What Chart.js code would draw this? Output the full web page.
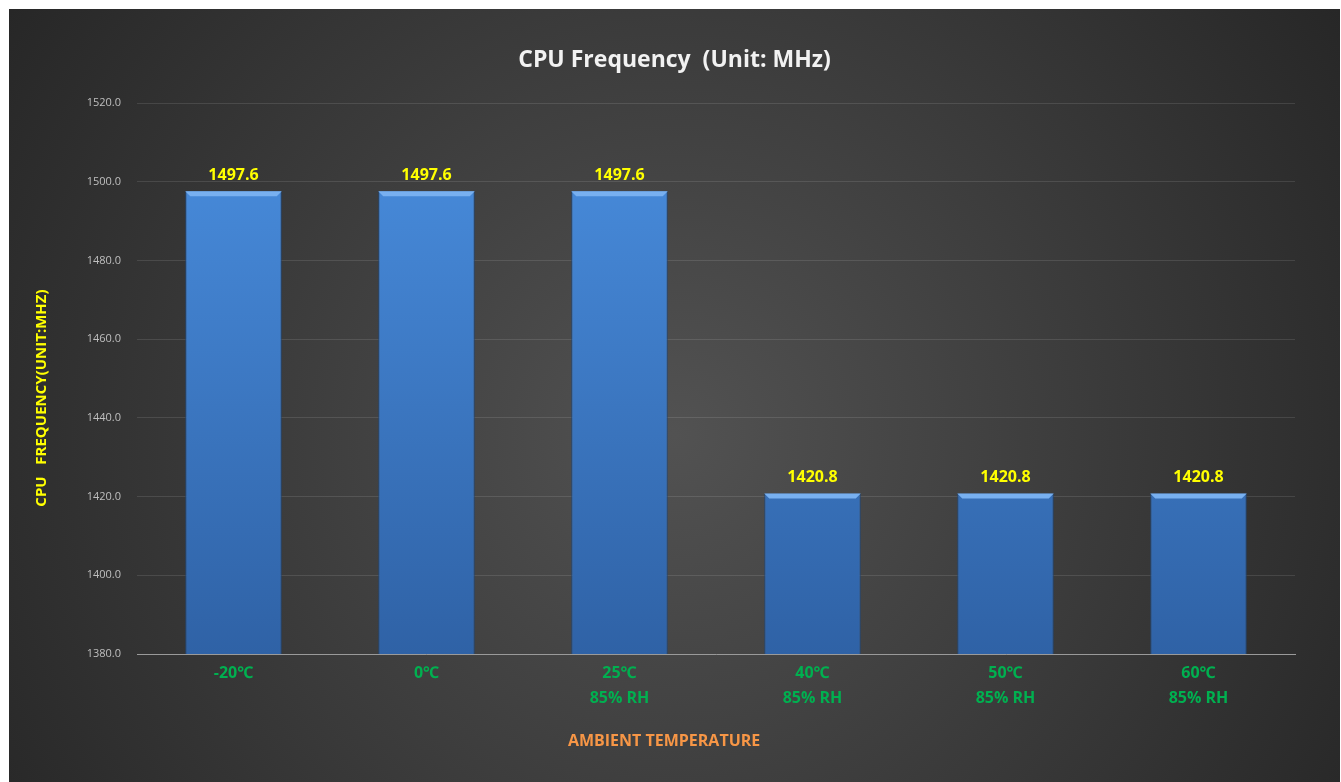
<!DOCTYPE html>
<html>
<head>
<meta charset="utf-8">
<title>CPU Frequency</title>
<script src="https://cdn.jsdelivr.net/npm/chart.js@4.4.1/dist/chart.umd.min.js"></script>
<style>
  body { margin: 0; background: #fff; }
  #wrap { position: absolute; left: 9px; top: 9px; width: 1331px; height: 773px; }
</style>
</head>
<body>
<div id="wrap"><canvas id="cpuChart"></canvas></div>
<script>
// CPU frequency per ambient temperature condition
const temperatures = ['-20℃', '0℃', '25℃', '40℃', '50℃', '60℃'];
const humidity = ['', '', '85% RH', '85% RH', '85% RH', '85% RH'];
const frequencies = [1497.6, 1497.6, 1497.6, 1420.8, 1420.8, 1420.8];
const yTicks = [1380, 1400, 1420, 1440, 1460, 1480, 1500, 1520];

const FONT = '"Open Sans", "Noto Sans", sans-serif';

function getCategoryLabels() {
  return temperatures.map((t, i) => humidity[i] ? [t, humidity[i]] : t);
}

// dark radial background behind everything
const backgroundPlugin = {
  id: 'darkBackground',
  beforeDraw(chart) {
    const { ctx, width, height } = chart;
    const g = ctx.createRadialGradient(width * 0.5, height * 0.55, 0, width * 0.5, height * 0.55, width * 0.62);
    g.addColorStop(0, '#525252');
    g.addColorStop(1, '#252525');
    ctx.save();
    ctx.fillStyle = g;
    ctx.fillRect(0, 0, width, height);
    ctx.restore();
  }
};

// bevel on top of each bar + yellow value labels
const barDecorPlugin = {
  id: 'barDecor',
  afterDatasetsDraw(chart) {
    const { ctx } = chart;
    const meta = chart.getDatasetMeta(0);
    ctx.save();
    meta.data.forEach((bar, i) => {
      const left = bar.x - bar.width / 2;
      const right = bar.x + bar.width / 2;
      ctx.fillStyle = '#78b0f0';
      ctx.beginPath();
      ctx.moveTo(left, bar.y);
      ctx.lineTo(right, bar.y);
      ctx.lineTo(right - 5, bar.y + 5);
      ctx.lineTo(left + 5, bar.y + 5);
      ctx.closePath();
      ctx.fill();

      ctx.fillStyle = '#ffff00';
      ctx.font = 'bold 16px ' + FONT;
      ctx.textAlign = 'center';
      ctx.textBaseline = 'middle';
      ctx.fillText(frequencies[i].toFixed(1), bar.x, bar.y - 16);
    });
    ctx.restore();
  }
};

function barGradient(context) {
  const { chart } = context;
  const area = chart.chartArea;
  if (!area) return '#3f7fcf';
  const g = chart.ctx.createLinearGradient(0, area.top, 0, area.bottom);
  g.addColorStop(0, '#4a8fe0');
  g.addColorStop(1, '#2f62a6');
  return g;
}

new Chart(document.getElementById('cpuChart'), {
  type: 'bar',
  data: {
    labels: getCategoryLabels(),
    datasets: [{
      label: 'CPU Frequency',
      data: frequencies,
      backgroundColor: barGradient,
      borderColor: '#234878',
      borderWidth: { left: 1, right: 1, top: 0, bottom: 0 },
      borderSkipped: false,
      barPercentage: 0.5,
      categoryPercentage: 1
    }]
  },
  options: {
    responsive: true,
    maintainAspectRatio: false,
    animation: false,
    layout: { padding: 0 },
    plugins: {
      legend: { display: false },
      tooltip: { enabled: false },
      title: {
        display: true,
        text: 'CPU Frequency  (Unit: MHz)',
        color: '#f2f2f2',
        font: { family: FONT, size: 23, weight: 'bold' },
        padding: { top: 37.5, bottom: 29 }
      },
      subtitle: {
        display: true,
        position: 'bottom',
        text: 'AMBIENT TEMPERATURE     ',
        color: '#f79646',
        font: { family: FONT, size: 16, weight: 'bold' },
        padding: { top: 21.4, bottom: 31.4 }
      }
    },
    scales: {
      x: {
        grid: { display: false, drawTicks: false },
        border: { color: '#9a9a9a', width: 1 },
        ticks: {
          color: '#00b050',
          padding: 7,
          font: { family: FONT, size: 16, weight: 'bold', lineHeight: 1.5625 }
        },
        afterFit(scale) { scale.height = 56; }
      },
      y: {
        min: yTicks[0],
        max: yTicks[yTicks.length - 1],
        afterBuildTicks(scale) { scale.ticks = yTicks.map(v => ({ value: v })); },
        grid: { color: 'rgba(255,255,255,0.11)', drawTicks: false },
        border: { display: false },
        ticks: {
          color: '#bfbfbf',
          padding: 16,
          font: { family: FONT, size: 11 },
          callback: v => Number(v).toFixed(1)
        },
        title: {
          display: true,
          text: 'CPU   FREQUENCY(UNIT:MHZ)          ',
          color: '#ffff00',
          font: { family: FONT, size: 15, weight: 'bold' },
          padding: { top: 24, bottom: 0 }
        },
        afterFit(scale) { scale.width = 128; }
      },
      // empty right axis, only reserves the right margin
      yRight: {
        position: 'right',
        display: true,
        grid: { display: false, drawTicks: false },
        border: { display: false },
        ticks: { display: false },
        afterFit(scale) { scale.width = 45; }
      }
    }
  },
  plugins: [backgroundPlugin, barDecorPlugin]
});
</script>
</body>
</html>
